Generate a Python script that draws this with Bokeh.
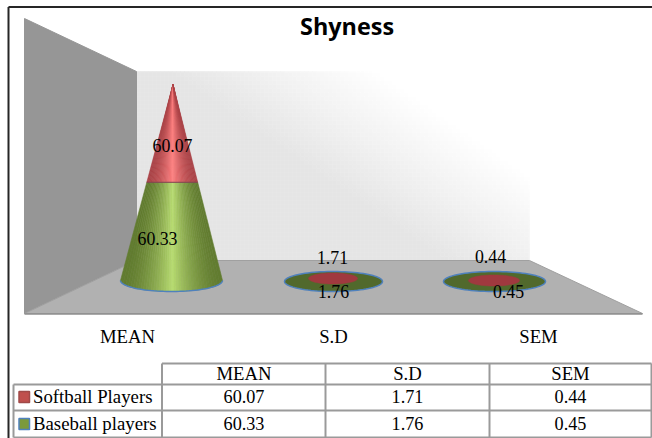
import numpy as np
from bokeh.plotting import figure
from bokeh.embed import file_html
from bokeh.resources import INLINE
from bokeh.core.properties import value

title = "Shyness"
categories = ["MEAN", "S.D", "SEM"]
softball = [60.07, 1.71, 0.44]
baseball = [60.33, 1.76, 0.45]
series_names = ["Softball Players", "Baseball players"]

SERIF = value("Liberation Serif")
PX_PER_UNIT = 1.628
FLOOR_Y = 280.0

p = figure(width=652, height=438, output_backend="svg", toolbar_location=None,
           x_range=(0, 652), y_range=(438, 0), min_border=0,
           background_fill_color="white", border_fill_color="white", outline_line_color=None)
p.axis.visible = False
p.grid.visible = False


def label(x, y, s, size=17.6, color="black", font=SERIF, style="normal"):
    p.text([x], [y], text=[s], text_font=font, text_font_size=f"{size}px",
           text_color=color, text_align="center", text_baseline="middle", text_font_style=style)


def ell(cx, cy, rx, ry, fill, line=None, lw=1.5):
    a = np.linspace(0, 2 * np.pi, 90)
    p.patch(cx + rx * np.cos(a), cy + ry * np.sin(a), fill_color=fill,
            line_color=line or fill, line_width=lw)


# frame
p.line([8, 8], [438, 6.5], line_color="#262626", line_width=2)
p.line([8, 652], [6.5, 6.5], line_color="#262626", line_width=2)

# back wall gradient
xs0, xs1, ys0, ys1, cols = [], [], [], [], []
STEP = 4
for u in range(0, 393, STEP):
    for v in range(0, 189, STEP):
        s = u + 1.46 * v
        g = int(np.clip(229 + 26 * (s - 300) / 210, 229, 255))
        xs0.append(136 + u); xs1.append(min(136 + u + STEP, 529))
        ys0.append(260 - v); ys1.append(max(260 - v - STEP, 71))
        cols.append(f"#{g:02x}{g:02x}{g:02x}")
p.quad(left=xs0, right=xs1, bottom=ys0, top=ys1, fill_color=cols, line_color=cols, line_width=0.5)

# side wall and floor
p.patch([24, 136, 136, 24], [18, 71, 260, 313], fill_color="#969696", line_color="#969696")
p.patch([136, 529, 642, 24], [260, 260, 313, 313], fill_color="#b1b1b1", line_color="#a0a0a0", line_width=1)
p.line([24, 642], [313.5, 313.5], line_color="#8e8e8e", line_width=1.5)


def shade(t, edge, mid):
    k = (1 - abs(t - 0.02)) ** 1.7
    c = [int(e + (m - e) * k) for e, m in zip(edge, mid)]
    return "#%02x%02x%02x" % tuple(c)


def frustum(cx_top, cx_bot, y_top, y_bot, r_top, r_bot, ry_bot, edge, mid, n=40):
    ts = np.linspace(-1, 1, n + 1)
    for a, b in zip(ts[:-1], ts[1:]):
        xs = [cx_top + a * r_top, cx_top + b * r_top, cx_bot + b * r_bot, cx_bot + a * r_bot]
        ys = [y_top, y_top, y_bot + ry_bot * np.sqrt(1 - b * b), y_bot + ry_bot * np.sqrt(1 - a * a)]
        c = shade((a + b) / 2, edge, mid)
        p.patch(xs, ys, fill_color=c, line_color=c, line_width=0.6)


# tall cone (MEAN): stacked heights come from the values
base_x, apex_x = 171.0, 172.5
R = 51.0
y_mid = FLOOR_Y - baseball[0] * PX_PER_UNIT
y_apex = y_mid - softball[0] * PX_PER_UNIT
r_mid = R * (y_mid - y_apex) / (FLOOR_Y - y_apex)
x_mid = apex_x + (base_x - apex_x) * (y_mid - y_apex) / (FLOOR_Y - y_apex)
a = np.linspace(0, np.pi, 50)
frustum(x_mid, base_x, y_mid, FLOOR_Y, r_mid, R, 11, (98, 124, 48), (184, 220, 114))
p.line(base_x + R * np.cos(a), FLOOR_Y + 11 * np.sin(a), line_color="#4f81bd", line_width=1.5)
frustum(apex_x, x_mid, y_apex, y_mid, 0, r_mid, 0, (170, 66, 70), (255, 128, 128))
p.line([x_mid - r_mid, x_mid + r_mid], [y_mid, y_mid], line_color="#7a4a50", line_width=1)

# flat cones (S.D, SEM), seen from above
for cx, gy, grx, rx, ry, rrx in [(333, 281, 49, 332.5, 278, 24.5), (494, 281, 51, 493.5, 280, 25.5)]:
    ell(cx, gy, grx, 10, "#51692c", "#4f81bd", 1.5)
    ell(rx, ry, rrx, 5.5, "#a0393f", "#a0393f", 0.5)

# data labels
for (x, y), v in zip([(172, 145), (332, 257), (490, 256)], softball):
    label(x, y, f"{v:.2f}", size=17.8)
for (x, y), v in zip([(157, 238), (333, 291), (508, 291)], baseball):
    label(x, y, f"{v:.2f}", size=17.8)

# title and category labels
label(346.5, 25.5, title, size=23.4, font=value("Open Sans"), style="bold")
for x, c in zip([127, 333, 538], categories):
    label(x, 335.5, c, size=18.7)

# data table
gl = "#9a9a9a"
hy = [363, 384, 410, 437]
vx = [161.5, 325, 489, 651]
p.line([161.5, 651], [hy[0], hy[0]], line_color=gl, line_width=2)
for y in hy[1:]:
    p.line([13, 651], [y, y], line_color=gl, line_width=2)
for x in vx:
    p.line([x, x], [hy[0], hy[3]], line_color=gl, line_width=2)
p.line([13, 13], [hy[1], hy[3]], line_color=gl, line_width=2)

cx = [243.5, 407, 570]
for x, c, s, b in zip(cx, categories, softball, baseball):
    label(x, 373, c, size=18.7)
    label(x, 396, f"{s:.2f}", size=18.2)
    label(x, 423, f"{b:.2f}", size=18.2)

for y, name, fc, lc in [(396.5, series_names[0], "#c0504d", "#a04a48"),
                        (423.5, series_names[1], "#7b9a3c", "#4f81bd")]:
    p.quad(left=[18.5], right=[29], bottom=[y + 5.5], top=[y - 5.5], fill_color=fc, line_color=lc, line_width=1.5)
    p.text([32.5], [y - 0.5], text=[name], text_font=SERIF, text_font_size="18.8px",
           text_align="left", text_baseline="middle", text_color="black")

open("out.html", "w").write(file_html(p, INLINE))
